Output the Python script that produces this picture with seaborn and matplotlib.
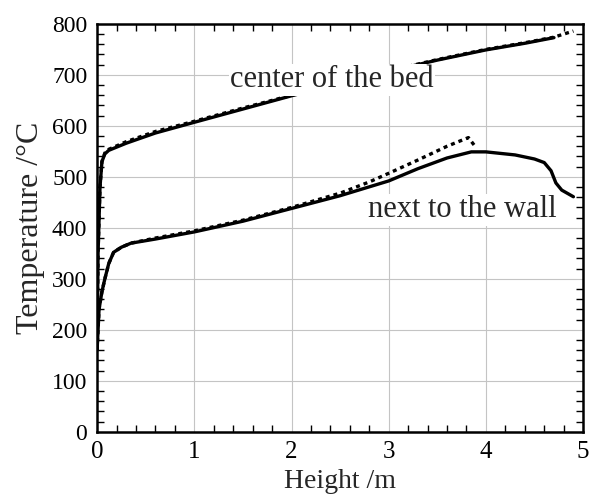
import matplotlib
matplotlib.use("Agg")
import matplotlib.pyplot as plt
from matplotlib.ticker import MultipleLocator
import seaborn as sns

# center of the bed, solid (computed) and dotted (measured)
center_x = [0.0, 0.01, 0.03, 0.05, 0.08, 0.12, 0.3, 0.6, 1.0, 1.5, 2.0, 2.5, 3.0, 3.5, 4.0, 4.4, 4.7]
center_y = [165, 350, 480, 530, 545, 552, 566, 586, 607, 633, 659, 683, 707, 729, 749, 762, 773]
center_dot_x = [0.0, 0.01, 0.03, 0.05, 0.08, 0.12, 0.3, 0.6, 1.0, 1.5, 2.0, 2.5, 3.0, 3.5, 4.0, 4.4, 4.7, 4.9]
center_dot_y = [165, 350, 480, 530, 547, 554, 569, 589, 609, 635, 660, 684, 708, 730, 750, 763, 774, 786]

# next to the wall
wall_x = [0.0, 0.02, 0.05, 0.08, 0.12, 0.17, 0.25, 0.35, 0.6, 1.0, 1.5, 2.0, 2.5, 3.0, 3.3, 3.6, 3.85, 4.0, 4.3, 4.5, 4.6, 4.67, 4.72, 4.78, 4.9]
wall_y = [160, 240, 275, 300, 330, 352, 362, 370, 378, 392, 413, 438, 463, 492, 516, 537, 549, 549, 543, 535, 528, 512, 488, 474, 461]
wall_dot_x = [0.0, 0.02, 0.05, 0.08, 0.12, 0.17, 0.25, 0.35, 0.6, 1.0, 1.5, 2.0, 2.5, 2.8, 3.0, 3.3, 3.6, 3.82, 3.88]
wall_dot_y = [160, 240, 275, 300, 330, 352, 362, 370, 380, 394, 415, 440, 468, 490, 507, 533, 560, 577, 562]

sns.set_theme(style="white")
plt.rcParams['font.family'] = ['Liberation Serif', 'DejaVu Serif']

fig, ax = plt.subplots(figsize=(5.92, 4.98), dpi=100)
fig.subplots_adjust(left=0.164, right=0.985, top=0.952, bottom=0.133)

lw = 2.4
dots = (0, (1.2, 1.2))
sns.lineplot(x=center_dot_x, y=center_dot_y, ax=ax, color='black', lw=lw,
             linestyle=dots, sort=False, estimator=None)
sns.lineplot(x=center_x, y=center_y, ax=ax, color='black', lw=lw, sort=False, estimator=None)
sns.lineplot(x=wall_dot_x, y=wall_dot_y, ax=ax, color='black', lw=lw,
             linestyle=dots, sort=False, estimator=None)
sns.lineplot(x=wall_x, y=wall_y, ax=ax, color='black', lw=lw, sort=False, estimator=None)

ax.set_xlim(0, 5)
ax.set_ylim(0, 800)
ax.xaxis.set_major_locator(MultipleLocator(1))
ax.xaxis.set_minor_locator(MultipleLocator(0.2))
ax.yaxis.set_major_locator(MultipleLocator(100))
ax.yaxis.set_minor_locator(MultipleLocator(20))
ax.tick_params(which='both', direction='in', top=True, right=True, bottom=True, left=True,
               colors='black', width=1)
ax.tick_params(which='major', length=0)
ax.tick_params(axis='x', which='major', pad=7, labelsize=18)
ax.tick_params(axis='y', which='major', pad=7, labelsize=17)
ax.tick_params(which='minor', length=5)
ax.grid(True, which='major', color='#c4c4c4', lw=0.8)
for s in ax.spines.values():
    s.set_color('black')
    s.set_linewidth(1.8)

ax.set_xlabel('Height /m', fontsize=20, labelpad=4)
ax.set_ylabel('Temperature /°C', fontsize=23, labelpad=5)

ax.text(1.37, 690, 'center of the bed', fontsize=22, va='center', ha='left',
        bbox=dict(facecolor='white', edgecolor='none', pad=1))
ax.text(2.79, 435, 'next to the wall', fontsize=22, va='center', ha='left',
        bbox=dict(facecolor='white', edgecolor='none', pad=1))

fig.savefig('out.png', dpi=100)
